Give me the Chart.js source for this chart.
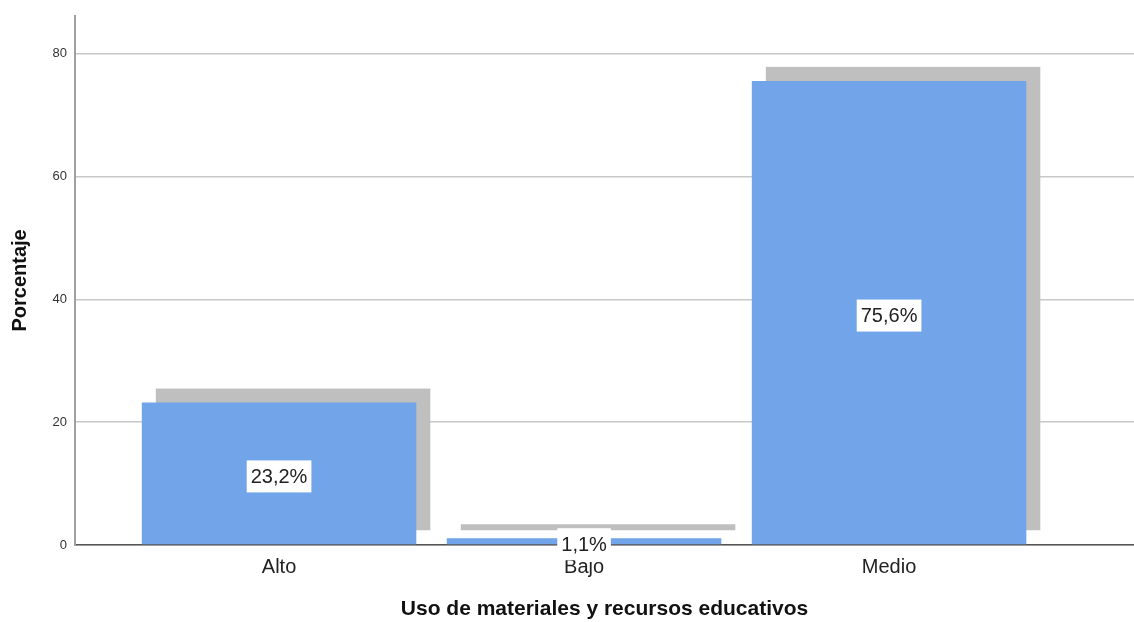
<!DOCTYPE html>
<html>
<head>
<meta charset="utf-8">
<script src="https://cdn.jsdelivr.net/npm/chart.js@4.4.0/dist/chart.umd.min.js"></script>
<style>
  html, body { margin: 0; padding: 0; background: #fff; }
  #wrap { width: 1134px; height: 622px; }
</style>
</head>
<body>
<div id="wrap"><canvas id="myChart"></canvas></div>
<script>
let categorias = ['Alto', 'Bajo', 'Medio']
let porcentaje = [23.2, 1.1, 75.6]
let etiquetas = ['23,2%', '1,1%', '75,6%']
let yTicks = [0, 20, 40, 60, 80]

let puntos = porcentaje.map((v, i) => ({ x: i, y: v }))

// sombra gris detras de cada barra (estilo SPSS)
const sombra = {
    id: 'sombra',
    beforeDatasetsDraw(chart) {
        const ctx = chart.ctx
        const meta = chart.getDatasetMeta(0)
        ctx.save()
        ctx.fillStyle = '#bfbfbf'
        meta.data.forEach(bar => {
            const p = bar.getProps(['x', 'y', 'base', 'width'], true)
            ctx.fillRect(p.x - p.width / 2 + 14, p.y - 14, p.width, p.base - p.y)
        })
        ctx.restore()
    }
}

// etiquetas con caja blanca en el centro de la barra
const etiquetasBarras = {
    id: 'etiquetasBarras',
    afterDatasetsDraw(chart) {
        const ctx = chart.ctx
        const meta = chart.getDatasetMeta(0)
        ctx.save()
        ctx.font = '20px "Liberation Sans", Arial, sans-serif'
        ctx.textAlign = 'center'
        ctx.textBaseline = 'middle'
        meta.data.forEach((bar, i) => {
            const p = bar.getProps(['x', 'y', 'base'], true)
            const cy = (p.y + p.base) / 2 + 3
            const w = ctx.measureText(etiquetas[i]).width + 8
            ctx.fillStyle = '#ffffff'
            ctx.fillRect(p.x - w / 2, cy - 16, w, 32)
            ctx.fillStyle = '#222'
            ctx.fillText(etiquetas[i], p.x, cy + 1)
        })
        ctx.restore()
    }
}

var ctx = document.getElementById('myChart').getContext('2d')
var grafico = new Chart(ctx, {
    type: 'bar',
    data: {
        datasets: [{
            label: 'Porcentaje',
            data: puntos,
            backgroundColor: 'rgb(113, 164, 232)',
            borderWidth: 0,
            barPercentage: 0.9,
            categoryPercentage: 1.0
        }]
    },
    options: {
        responsive: true,
        maintainAspectRatio: false,
        animation: false,
        layout: { padding: { top: 15, right: 0, left: 0, bottom: 0 } },
        plugins: {
            legend: { display: false },
            tooltip: { enabled: false }
        },
        scales: {
            x: {
                type: 'linear',
                offset: false,
                min: -0.669,
                max: 2.803,
                afterBuildTicks: scale => { scale.ticks = categorias.map((c, i) => ({ value: i })) },
                afterFit: scale => { scale.height = 77 },
                grid: { display: false, drawTicks: false, offset: false },
                border: { display: true, color: '#555', width: 1.5 },
                ticks: {
                    padding: 10,
                    color: '#222',
                    font: { family: '"Liberation Sans", Arial, sans-serif', size: 20 },
                    callback: v => categorias[v]
                },
                title: {
                    display: true,
                    text: 'Uso de materiales y recursos educativos',
                    color: '#111',
                    padding: { top: 0, bottom: 0 },
                    font: { family: '"Liberation Sans", Arial, sans-serif', size: 21, weight: 'bold' }
                }
            },
            y: {
                min: 0,
                max: 86.2,
                afterBuildTicks: scale => { scale.ticks = yTicks.map(v => ({ value: v })) },
                afterFit: scale => { scale.width = 75 },
                grid: { color: '#c8c8c8', lineWidth: 1.5, drawTicks: false },
                border: { display: true, color: '#a0a0a0', width: 2 },
                ticks: {
                    padding: 8,
                    color: '#333',
                    font: { family: '"Liberation Sans", Arial, sans-serif', size: 13 }
                },
                title: {
                    display: true,
                    text: 'Porcentaje',
                    color: '#111',
                    padding: { top: 8, bottom: 0 },
                    font: { family: '"Liberation Sans", Arial, sans-serif', size: 20, weight: 'bold' }
                }
            }
        }
    },
    plugins: [sombra, etiquetasBarras]
})
</script>
</body>
</html>
